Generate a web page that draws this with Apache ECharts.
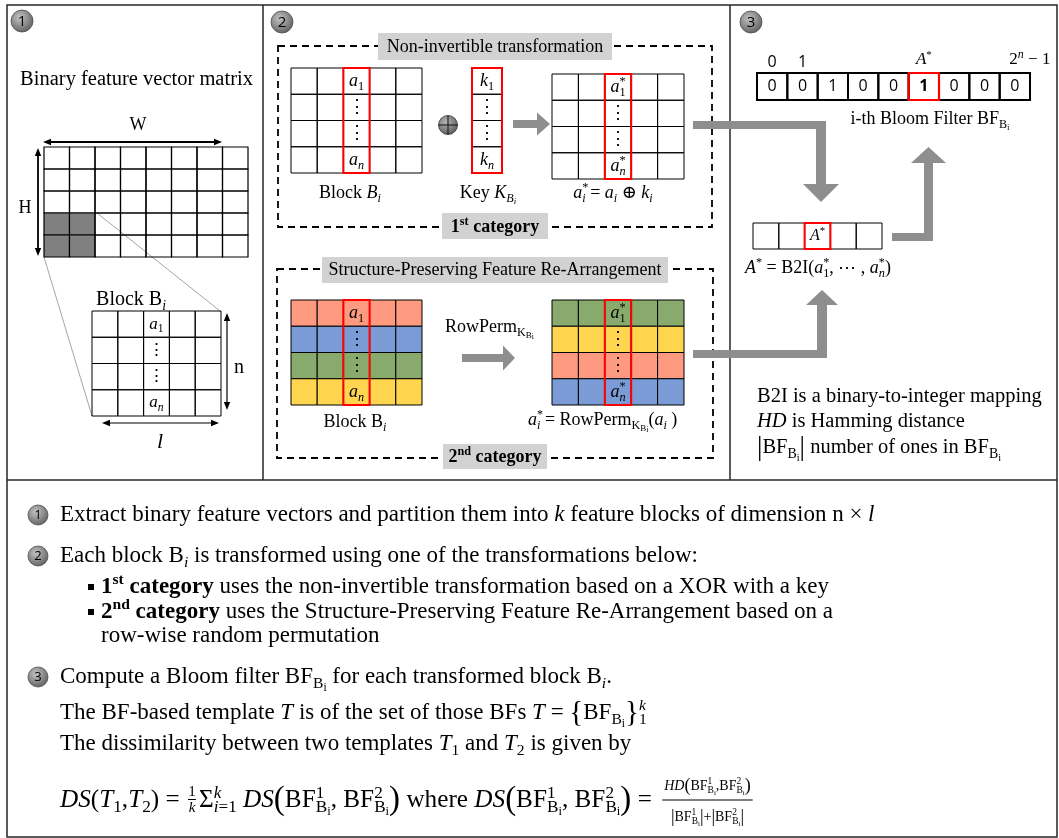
<!DOCTYPE html>
<html>
<head>
<meta charset="utf-8">
<title>Bloom-filter based template protection</title>
<script src="https://cdn.jsdelivr.net/npm/echarts@6/dist/echarts.min.js"></script>
<style>
html,body{margin:0;padding:0;background:#ffffff;}
#main{width:1059px;height:838px;}
</style>
</head>
<body>
<div id="main"></div>
<script>
// ================= DATA =================
// Binary feature vector matrix (1 = cells belonging to block B_i)
const featureMatrix = [
  [0,0,0,0,0,0,0,0],
  [0,0,0,0,0,0,0,0],
  [0,0,0,0,0,0,0,0],
  [1,1,0,0,0,0,0,0],
  [1,1,0,0,0,0,0,0]
];
const blockColumns = ['c1','c2','c3','c4','c5'];
const blockRowNames = ['r1','r2','r3','r4'];
const highlightedColumn = 2;
const blockColumnText = ['{i|a}{sub|1}', '{r|⋮}', '{r|⋮}', '{i|a}{subi|n}'];
const keyColumnText = ['{i|k}{sub|1}', '{r|⋮}', '{r|⋮}', '{i|k}{subi|n}'];
const transformedColumnText = ['{i|a}{supz|*}{sub|1}', '{r|⋮}', '{r|⋮}', '{i|a}{supz|*}{subi|n}'];
const originalRowOrder = ['red', 'blue', 'green', 'yellow'];
const permutedRowOrder = ['green', 'yellow', 'red', 'blue'];
const bloomBits = [0, 0, 1, 0, 0, 1, 0, 0, 0];
const bloomHitIndex = 5;
const bloomIndexLabels = ['0', '1', '', '', '', '{m|A}{sr|*}', '', '', '{lead|2}{s|n}{t| − 1}'];
const b2iCells = ['', '', '{i|A}{sup|*}', '', ''];
const b2iHitIndex = 2;

// ================= STYLE =================
const SERIF = "'Liberation Serif','DejaVu Serif',serif";
const SANS = "'Open Sans','Liberation Sans','DejaVu Sans',sans-serif";
const ROW_COLORS = {red: '#FE9A80', blue: '#7B9BD6', green: '#88AA6C', yellow: '#FFD550'};
const ARROW_GRAY = '#8e8e8e';
const LABEL_GRAY = '#d2d2d2';

function F(size, style, weight, fam) {
  return (style || 'normal') + ' ' + (weight || 'normal') + ' ' + size + 'px ' + (fam || SERIF);
}
function richFor(s) {
  const L = Math.round(s * 1.2);
  const ss = Math.round(s * 6.8) / 10, s2 = Math.round(s * 5) / 10, s3 = Math.round(s * 4.2) / 10;
  const base = f => ({font: f, fill: '#000', lineHeight: L, align: 'left'});
  const sub = (f, h) => ({font: f, fill: '#000', verticalAlign: 'bottom', height: h, lineHeight: 1, align: 'left'});
  const sup = (f, h, w) => {
    const o = {font: f, fill: '#000', verticalAlign: 'top', height: h, lineHeight: 1, align: 'left'};
    if (w != null) o.width = w;
    return o;
  };
  return {
    r: base(F(s)), i: base(F(s, 'italic')), b: base(F(s, 'normal', 'bold')),
    big: base(F(Math.round(s * 1.3))),
    n: base(F(s, 'normal', 'normal', SANS)), nb: base(F(s, 'normal', 'bold', SANS)),
    sub: sub(F(ss), s * 0.6), subi: sub(F(ss, 'italic'), s * 0.6),
    sub2: sub(F(s2), s * 0.26), sub2i: sub(F(s2, 'italic'), s * 0.26),
    sub3: sub(F(s3), s * 0.06),
    sup: sup(F(ss), s * 0.64), supi: sup(F(ss, 'italic'), s * 0.64), supb: sup(F(ss, 'normal', 'bold'), s * 0.64),
    supz: sup(F(ss), s * 0.64, 0.01), supzi: sup(F(ss, 'italic'), s * 0.64, 0.01)
  };
}
function textStyle(x, y, t, size, align) {
  const a = align || 'center';
  return {
    x: x, y: y, text: t, rich: richFor(size), font: F(Math.round(size * 1.25)),
    lineHeight: Math.round(size * 1.2), fill: '#000',
    align: a, verticalAlign: 'middle', textAlign: a, textVerticalAlign: 'middle'
  };
}
// width of a rich string (used only to chain formula pieces)
const _ctx = document.createElement('canvas').getContext('2d');
function measureRich(str, size) {
  const rich = richFor(size), rootFont = F(Math.round(size * 1.25));
  const re = /\{([a-zA-Z0-9_]+)\|([^}]*)\}/g;
  let last = 0, w = 0, m;
  const plain = t => { if (t) { _ctx.font = rootFont; w += _ctx.measureText(t).width; } };
  while ((m = re.exec(str)) !== null) {
    plain(str.substring(last, m.index));
    const st = rich[m[1]];
    if (st.width != null) w += st.width; else { _ctx.font = st.font; w += _ctx.measureText(m[2]).width; }
    last = re.lastIndex;
  }
  plain(str.substring(last));
  return w;
}

// ================= MATRICES (grids + custom series) =================
const LAYOUT = {
  feature: {left: 44, top: 147, width: 204, height: 110},
  block:   {left: 92, top: 311, width: 129, height: 105},
  xorIn:   {left: 291, top: 68, width: 131, height: 105},
  key:     {left: 472, top: 68, width: 30, height: 105},
  xorOut:  {left: 552, top: 74, width: 132, height: 105},
  permIn:  {left: 291, top: 300, width: 131, height: 105},
  permOut: {left: 552, top: 300, width: 132, height: 105},
  bloom:   {left: 757, top: 73, width: 273, height: 27},
  b2i:     {left: 753, top: 223, width: 129, height: 26}
};
function cellsFrom(nc, nr, fn) {
  const out = [];
  for (let r = 0; r < nr; r++) for (let c = 0; c < nc; c++) out.push(Object.assign({col: c, row: r}, fn(c, r)));
  return out;
}
const MATS = [];
function matrix(name, cols, rows, cells, conf) {
  MATS.push(Object.assign({name: name, cols: cols, rows: rows, cells: cells, lw: 1, fs: 18}, conf || {}));
}
const featureCols = featureMatrix[0].map((_, i) => 'f' + i);
const featureRows = featureMatrix.map((_, i) => 'g' + i);
matrix('feature', featureCols, featureRows,
  cellsFrom(featureCols.length, featureRows.length, (c, r) => ({fill: featureMatrix[r][c] ? '#808080' : 'none'})), {lw: 1.2});
matrix('block', blockColumns, blockRowNames,
  cellsFrom(5, 4, (c, r) => ({fill: 'none', text: c === highlightedColumn ? blockColumnText[r] : ''})), {fs: 17});
matrix('xorIn', blockColumns, blockRowNames,
  cellsFrom(5, 4, (c, r) => ({fill: 'none', text: c === highlightedColumn ? blockColumnText[r] : ''})), {outline: highlightedColumn});
matrix('key', ['k'], blockRowNames,
  cellsFrom(1, 4, (c, r) => ({fill: 'none', text: keyColumnText[r]})), {outline: 0});
matrix('xorOut', blockColumns, blockRowNames,
  cellsFrom(5, 4, (c, r) => ({fill: 'none', text: c === highlightedColumn ? transformedColumnText[r] : ''})), {outline: highlightedColumn});
matrix('permIn', blockColumns, blockRowNames,
  cellsFrom(5, 4, (c, r) => ({fill: ROW_COLORS[originalRowOrder[r]], text: c === highlightedColumn ? blockColumnText[r] : ''})), {outline: highlightedColumn});
matrix('permOut', blockColumns, blockRowNames,
  cellsFrom(5, 4, (c, r) => ({fill: ROW_COLORS[permutedRowOrder[r]], text: c === highlightedColumn ? transformedColumnText[r] : ''})), {outline: highlightedColumn});
matrix('bloom', bloomBits.map((_, i) => 'b' + i), ['row'],
  cellsFrom(bloomBits.length, 1, (c) => ({fill: 'none', text: (c === bloomHitIndex ? '{nb|' : '{n|') + bloomBits[c] + '}'})),
  {lw: 2, fs: 16, outline: bloomHitIndex, outlineLw: 2.2, axisLabels: bloomIndexLabels});
matrix('b2i', b2iCells.map((_, i) => 'a' + i), ['row'],
  cellsFrom(b2iCells.length, 1, (c) => ({fill: 'none', text: b2iCells[c]})), {fs: 16, outline: b2iHitIndex});

const option = {animation: false, backgroundColor: '#ffffff', grid: [], xAxis: [], yAxis: [], series: []};
MATS.forEach((m, mi) => {
  option.grid.push(Object.assign({show: false, containLabel: false}, LAYOUT[m.name]));
  const xa = {gridIndex: mi, type: 'category', data: m.cols, show: false};
  if (m.axisLabels) {
    Object.assign(xa, {
      show: true, position: 'top',
      axisLine: {show: false}, axisTick: {show: false}, splitLine: {show: false},
      axisLabel: {
        show: true, interval: 0, margin: 3, fontFamily: SANS, fontSize: 16, color: '#000',
        formatter: (v, i) => m.axisLabels[i],
        rich: {
          m: {fontFamily: SERIF, fontStyle: 'italic', fontSize: 17, color: '#000', lineHeight: 20},
          sr: {fontFamily: SERIF, fontSize: 11, color: '#000', verticalAlign: 'top', height: 10, lineHeight: 1},
          s: {fontFamily: SERIF, fontStyle: 'italic', fontSize: 12, color: '#000', verticalAlign: 'top', height: 10, lineHeight: 1},
          t: {fontFamily: SERIF, fontSize: 17, color: '#000', lineHeight: 20},
          lead: {fontFamily: SERIF, fontSize: 17, color: '#000', lineHeight: 20, padding: [0, 0, 0, 30]}
        }
      }
    });
  }
  option.xAxis.push(xa);
  option.yAxis.push({gridIndex: mi, type: 'category', data: m.rows, inverse: true, show: false});
  option.series.push({
    type: 'custom', name: m.name, coordinateSystem: 'cartesian2d', xAxisIndex: mi, yAxisIndex: mi,
    silent: true, animation: false, clip: false, z: 2,
    data: m.cells.map(c => [c.col, c.row]),
    renderItem: function (params, api) {
      const cell = m.cells[params.dataIndex];
      const p = api.coord([api.value(0), api.value(1)]);
      const s = api.size([1, 1]);
      const kids = [{
        type: 'rect',
        shape: {x: p[0] - s[0] / 2, y: p[1] - s[1] / 2, width: s[0], height: s[1]},
        style: {fill: cell.fill, stroke: '#000', lineWidth: m.lw}
      }];
      if (cell.text) kids.push({type: 'text', style: textStyle(p[0], p[1], cell.text, m.fs)});
      return {type: 'group', children: kids};
    }
  });
  if (m.outline != null) {
    const nRows = m.rows.length;
    option.series.push({
      type: 'custom', name: m.name + '-col', coordinateSystem: 'cartesian2d', xAxisIndex: mi, yAxisIndex: mi,
      silent: true, animation: false, clip: false, z: 3,
      data: [[m.outline, 0]],
      renderItem: function (params, api) {
        const p = api.coord([api.value(0), api.value(1)]);
        const s = api.size([1, 1]);
        return {type: 'rect', shape: {x: p[0] - s[0] / 2, y: p[1] - s[1] / 2, width: s[0], height: s[1] * nRows},
          style: {fill: 'none', stroke: '#ff0000', lineWidth: m.outlineLw || 2}};
      }
    });
  }
});

// ================= ANNOTATIONS (graphic) =================
const G = [];
function line(x1, y1, x2, y2, stroke, lw, extra) {
  G.push({type: 'line', silent: true, shape: {x1: x1, y1: y1, x2: x2, y2: y2}, style: Object.assign({stroke: stroke, lineWidth: lw}, extra || {})});
}
function box(x, y, w, h, style) { G.push({type: 'rect', silent: true, shape: {x: x, y: y, width: w, height: h}, style: style}); }
function poly(points, style) { G.push({type: 'polygon', silent: true, shape: {points: points}, style: style}); }
function circle(cx, cy, r, style) { G.push({type: 'circle', silent: true, shape: {cx: cx, cy: cy, r: r}, style: style}); }
function text(x, y, t, size, align) { G.push({type: 'text', silent: true, style: textStyle(x, y, t, size, align)}); }
function dblH(x1, x2, y, lw) {
  line(x1 + 5, y, x2 - 5, y, '#000', lw);
  poly([[x1, y], [x1 + 8, y - 3.2], [x1 + 8, y + 3.2]], {fill: '#000'});
  poly([[x2, y], [x2 - 8, y - 3.2], [x2 - 8, y + 3.2]], {fill: '#000'});
}
function dblV(x, y1, y2, lw) {
  line(x, y1 + 5, x, y2 - 5, '#000', lw);
  poly([[x, y1], [x - 3.2, y1 + 8], [x + 3.2, y1 + 8]], {fill: '#000'});
  poly([[x, y2], [x - 3.2, y2 - 8], [x + 3.2, y2 - 8]], {fill: '#000'});
}
function arrowR(x1, x2, y, sh, hl, hh) {
  poly([[x1, y - sh], [x2 - hl, y - sh], [x2 - hl, y - hh], [x2, y], [x2 - hl, y + hh], [x2 - hl, y + sh], [x1, y + sh]], {fill: ARROW_GRAY});
}
function badge(cx, cy, r, num, fs) {
  circle(cx, cy, r, {
    fill: new echarts.graphic.RadialGradient(0.4, 0.35, 0.7, [{offset: 0, color: '#c4c4c4'}, {offset: 1, color: '#5c5c5c'}]),
    stroke: '#4d4d4d', lineWidth: 0.8
  });
  text(cx, cy + 0.5, '{n|' + num + '}', fs);
}

// frame
box(7, 5, 1050, 832, {fill: 'none', stroke: '#262626', lineWidth: 1.5});
line(7, 480, 1057, 480, '#262626', 1.5);
line(263, 5, 263, 480, '#262626', 1.5);
line(730, 5, 730, 480, '#262626', 1.5);

// ---- panel 1 ----
badge(22, 21, 11, '1', 15);
text(136.5, 80, '{r|Binary feature vector matrix}', 20.5);
text(138, 125, '{r|W}', 18);
dblH(43, 222, 142, 1.8);
text(25, 208, '{r|H}', 18);
dblV(38, 148, 256, 1.8);
line(97, 213, 220, 311, '#a6a6a6', 1);
line(44, 257, 92, 416, '#a6a6a6', 1);
text(131, 300, '{r|Block B}{subi|i}', 20);
dblV(227, 313, 410, 1.2);
text(239, 368, '{r|n}', 20);
dblH(102, 219, 423, 1.2);
text(160, 442, '{i|l}', 22);

// ---- panel 2 ----
badge(282, 22, 11, '2', 15);
box(278, 46, 434, 181, {fill: 'none', stroke: '#000', lineWidth: 1.8, lineDash: [7, 5]});
box(277, 269, 436, 189, {fill: 'none', stroke: '#000', lineWidth: 1.8, lineDash: [7, 5]});
box(378, 33, 234, 27, {fill: LABEL_GRAY});
text(495, 47, '{r|Non-invertible transformation}', 18);
circle(448, 125, 9.5, {
  fill: new echarts.graphic.RadialGradient(0.4, 0.35, 0.7, [{offset: 0, color: '#b4b4b4'}, {offset: 1, color: '#585858'}]),
  stroke: '#333', lineWidth: 0.8
});
line(438.5, 125, 457.5, 125, '#111', 1);
line(448, 115.5, 448, 134.5, '#111', 1);
arrowR(513, 550, 124, 4, 13, 11.5);
text(350, 193, '{r|Block }{i|B}{subi|i}', 18);
text(488, 193, '{r|Key }{i|K}{subi|B}{sub2i|i}', 18);
text(613, 193, '{i|a}{supz|*}{subi|i}{r| = }{i|a}{subi|i}{r| ⊕ }{i|k}{subi|i}', 18);
box(442, 213, 106, 26, {fill: LABEL_GRAY});
text(495, 227, '{b|1}{supb|st}{b| category}', 18);

box(322, 257, 346, 26, {fill: LABEL_GRAY});
text(495, 270, '{r|Structure-Preserving Feature Re-Arrangement}', 18);
text(445, 327, '{r|RowPerm}{sub|K}{sub2|B}{sub3|i}', 18, 'left');
arrowR(462, 515, 358, 4, 12, 12.5);
text(355, 422, '{r|Block B}{subi|i}', 18);
text(528, 420, '{i|a}{supz|*}{subi|i}{r| = RowPerm}{sub|K}{sub2|B}{sub3|i}{r|(}{i|a}{subi|i}{r| )}', 18, 'left');
box(443, 444, 104, 25, {fill: LABEL_GRAY});
text(495, 457, '{b|2}{supb|nd}{b| category}', 18);

// connectors
poly([[693, 121], [826, 121], [826, 184], [839, 184], [821, 202], [803, 184], [816, 184], [816, 129], [693, 129]], {fill: ARROW_GRAY});
poly([[693, 350], [817, 350], [817, 305], [806, 305], [822, 290], [838, 305], [827, 305], [827, 358], [693, 358]], {fill: ARROW_GRAY});
poly([[892, 233], [924, 233], [924, 163], [911, 163], [928.5, 147], [946, 163], [933, 163], [933, 241], [892, 241]], {fill: ARROW_GRAY});

// ---- panel 3 ----
badge(751, 22, 11, '3', 15);
text(930, 119, '{r|i-th Bloom Filter BF}{sub|B}{sub2|i}', 18);
text(745, 268, '{i|A}{sup|*}{r| = B2I(}{i|a}{supz|*}{sub|1}{r|, ⋯ , }{i|a}{supz|*}{subi|n}{r|)}', 18, 'left');
text(757, 397, '{r|B2I is a binary-to-integer mapping}', 20.5, 'left');
text(757, 422, '{i|HD}{r| is Hamming distance}', 20.5, 'left');
text(757, 448, '{big||}{r|BF}{sub|B}{sub2|i}{big||}{r| number of ones in BF}{sub|B}{sub2|i}', 20.5, 'left');

// ---- bottom explanation ----
const BS = 23;
badge(38, 515, 10, '1', 13);
text(60, 515, '{r|Extract binary feature vectors and partition them into }{i|k}{r| feature blocks of dimension n × }{i|l}', BS, 'left');
badge(38, 556, 10, '2', 13);
text(60, 556, '{r|Each block B}{subi|i}{r| is transformed using one of the transformations below:}', BS, 'left');
box(88, 584, 6, 6, {fill: '#000'});
text(101, 587, '{b|1}{supb|st}{b| category}{r| uses the non-invertible transformation based on a XOR with a key}', BS, 'left');
box(88, 609, 6, 6, {fill: '#000'});
text(101, 612, '{b|2}{supb|nd}{b| category}{r| uses the Structure-Preserving Feature Re-Arrangement based on a}', BS, 'left');
text(101, 636, '{r|row-wise random permutation}', BS, 'left');
badge(38, 677, 10, '3', 13);
text(60, 677, '{r|Compute a Bloom filter BF}{sub|B}{sub2|i}{r| for each transformed block B}{subi|i}{r|.}', BS, 'left');
text(60, 713, '{r|The BF-based template }{i|T}{r| is of the set of those BFs }{i|T}{r| = }{{r|BF}{sub|B}{sub2|i}}{supzi|k}{sub|1}', BS, 'left');
text(60, 744, '{r|The dissimilarity between two templates }{i|T}{sub|1}{r| and }{i|T}{sub|2}{r| is given by}', BS, 'left');

// formula line: pieces are chained by their measured widths
const FA = '{i|DS}{r|(}{i|T}{sub|1}{r|,}{i|T}{sub|2}{r|) = }';
const FB = '{r|Σ}{supzi|k}{subi|i}{sub|=1}{r| }{i|DS}{big|(}{r|BF}{supz|1}{sub|B}{sub2|i}{r|, BF}{supz|2}{sub|B}{sub2|i}{big|)}{r| where }{i|DS}{big|(}{r|BF}{supz|1}{sub|B}{sub2|i}{r|, BF}{supz|2}{sub|B}{sub2|i}{big|)}{r| = }';
const FNUM = '{i|HD}{big|(}{r|BF}{supz|1}{sub|B}{sub2|i}{r|,BF}{supz|2}{sub|B}{sub2|i}{big|)}';
const FDEN = '{big||}{r|BF}{supz|1}{sub|B}{sub2|i}{big||}{r|+}{big||}{r|BF}{supz|2}{sub|B}{sub2|i}{big||}';
const FY = 800;
const natural = measureRich(FA, 22) + 14 + measureRich(FB, 22);
const FS = Math.max(22, Math.min(26, 22 * 602 / natural));
let fx = 60;
text(fx, FY, FA, FS, 'left');
fx += measureRich(FA, FS) + 1;
text(fx + 5, FY - 8, '{r|1}', FS * 0.6);
line(fx + 1, FY - 0.5, fx + 9, FY - 0.5, '#000', 1);
text(fx + 5, FY + 8, '{i|k}', FS * 0.6);
fx += 12;
text(fx, FY, FB, FS, 'left');
fx += measureRich(FB, FS) + 4;
const fracW = Math.max(measureRich(FNUM, 14), measureRich(FDEN, 14)) + 4;
text(fx + fracW / 2, FY - 14, FNUM, 14);
line(fx, FY, fx + fracW, FY, '#000', 1.2);
text(fx + fracW / 2, FY + 17, FDEN, 14);

option.graphic = {elements: G};

const chart = echarts.init(document.getElementById('main'), null, {renderer: 'canvas', width: 1059, height: 838});
chart.setOption(option);
</script>
</body>
</html>
